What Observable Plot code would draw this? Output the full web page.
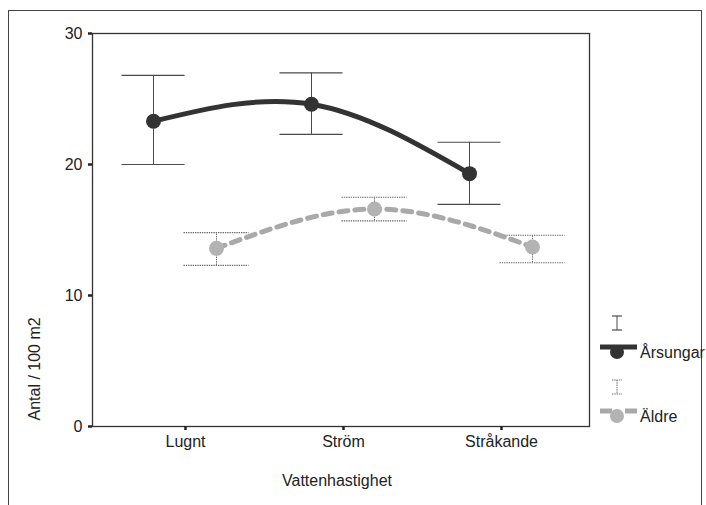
<!DOCTYPE html>
<html>
<head>
<meta charset="utf-8">
<script src="https://cdn.jsdelivr.net/npm/d3@7"></script>
<script src="https://cdn.jsdelivr.net/npm/@observablehq/plot@0.6"></script>
<style>
  html, body { margin: 0; padding: 0; background: #fff; }
  #wrap { position: relative; width: 706px; height: 505px; overflow: hidden; }
  #border {
    position: absolute; left: 8px; top: 10px; width: 694px; height: 520px;
    border: 1.6px solid #444; box-sizing: border-box;
  }
  #chart { position: absolute; left: 0; top: 0; }
</style>
</head>
<body>
<div id="wrap">
  <div id="border"></div>
  <div id="chart"></div>
</div>
<script>
// Fish density (per 100 m2) by water velocity, with 95% confidence intervals
const categories = ["Lugnt", "Ström", "Stråkande"];
const seriesNames = ["Årsungar", "Äldre"];

const arsungarMean = [23.3, 24.6, 19.3];
const arsungarLow  = [20.0, 22.3, 16.95];
const arsungarHigh = [26.8, 27.0, 21.7];

const aldreMean = [13.6, 16.6, 13.7];
const aldreLow  = [12.3, 15.7, 12.5];
const aldreHigh = [14.8, 17.5, 14.6];

const yTicks = [0, 10, 20, 30];
const yLabel = "Antal / 100 m2";
const xLabel = "Vattenhastighet";

const FONT = "'Liberation Sans', Arial, sans-serif";
const FS = 16;

const rowsFor = (mean, low, high) =>
  categories.map((c, i) => ({cat: c, mean: mean[i], low: low[i], high: high[i]}));

const arsungar = rowsFor(arsungarMean, arsungarLow, arsungarHigh);
const aldre = rowsFor(aldreMean, aldreLow, aldreHigh);

const styles = {
  "Årsungar": {dx: -32, line: "#333", width: 5, dash: null, dot: "#333", bar: "#4a4a4a", barDash: null, cap: 31.5},
  "Äldre":    {dx: 31,  line: "#a9a9a9", width: 5, dash: "9,7", dot: "#b3b3b3", bar: "#6a6a6a", barDash: "1.4,0.9", cap: 32.5}
};

function seriesMarks(rows, s) {
  return [
    Plot.ruleX(rows, {x: "cat", y1: "low", y2: "high", dx: s.dx, stroke: s.bar, strokeWidth: 1, strokeDasharray: s.barDash}),
    Plot.ruleY(rows, {x1: "cat", x2: "cat", y: "high", dx: s.dx, insetLeft: -s.cap, insetRight: -s.cap,
      stroke: s.bar, strokeWidth: 1.2, strokeDasharray: s.barDash}),
    Plot.ruleY(rows, {x1: "cat", x2: "cat", y: "low", dx: s.dx, insetLeft: -s.cap, insetRight: -s.cap,
      stroke: s.bar, strokeWidth: 1.2, strokeDasharray: s.barDash}),
    Plot.line(rows, {x: "cat", y: "mean", dx: s.dx, curve: "natural", stroke: s.line,
      strokeWidth: s.width, strokeDasharray: s.dash}),
    Plot.dot(rows, {x: "cat", y: "mean", dx: s.dx, r: 7.5, fill: s.dot, stroke: "none"})
  ];
}

const plot = Plot.plot({
  width: 706,
  height: 505,
  marginLeft: 92,
  marginRight: 117,
  marginTop: 33,
  marginBottom: 79,
  style: {fontFamily: FONT, fontSize: FS + "px", color: "#222", background: "transparent"},
  x: {type: "point", domain: categories, padding: 0.563, align: 0.514, label: null},
  y: {domain: [0, 30], label: null},
  marks: [
    Plot.frame({stroke: "#333", strokeWidth: 1.3}),
    Plot.axisY({ticks: yTicks, tickSize: 4, tickPadding: 6, strokeWidth: 2.5, label: null, fontSize: FS}),
    Plot.axisX({tickSize: 4, tickPadding: 5, strokeWidth: 2.5, label: null, fontSize: FS}),
    Plot.text([yLabel], {frameAnchor: "bottom-left", dx: -53, dy: -6, rotate: -90, textAnchor: "start", fontSize: FS, fill: "#222"}),
    Plot.text([xLabel], {frameAnchor: "bottom", dx: -4, dy: 59, fontSize: FS, fill: "#222"}),
    ...seriesMarks(arsungar, styles["Årsungar"]),
    ...seriesMarks(aldre, styles["Äldre"])
  ]
});

// Legend in the right margin: an error-bar glyph above a line-and-marker sample per series
const svg = d3.select(plot);
const legend = svg.append("g")
  .attr("font-family", FONT).attr("font-size", FS).attr("fill", "#222").attr("text-anchor", "start");
seriesNames.forEach((name, i) => {
  const s = styles[name];
  const top = 316 + i * 64;
  const g = legend.append("g").attr("transform", `translate(0,${top})`);
  const cx = 617;
  g.append("line").attr("x1", cx).attr("x2", cx).attr("y1", 0).attr("y2", 14)
    .attr("stroke", s.bar).attr("stroke-dasharray", s.barDash);
  [0, 14].forEach(y => g.append("line").attr("x1", cx - 5).attr("x2", cx + 5).attr("y1", y).attr("y2", y)
    .attr("stroke", s.bar).attr("stroke-width", 1.2).attr("stroke-dasharray", s.barDash));
  g.append("line").attr("x1", 600).attr("x2", 637).attr("y1", 31).attr("y2", 31)
    .attr("stroke", s.line).attr("stroke-width", s.width).attr("stroke-dasharray", s.dash ? "12,13" : null);
  g.append("circle").attr("cx", cx).attr("cy", 36).attr("r", 7).attr("fill", s.dot);
  g.append("text").attr("x", 640).attr("y", 36).attr("dy", "0.35em").text(name);
});

document.getElementById("chart").appendChild(plot);
</script>
</body>
</html>
